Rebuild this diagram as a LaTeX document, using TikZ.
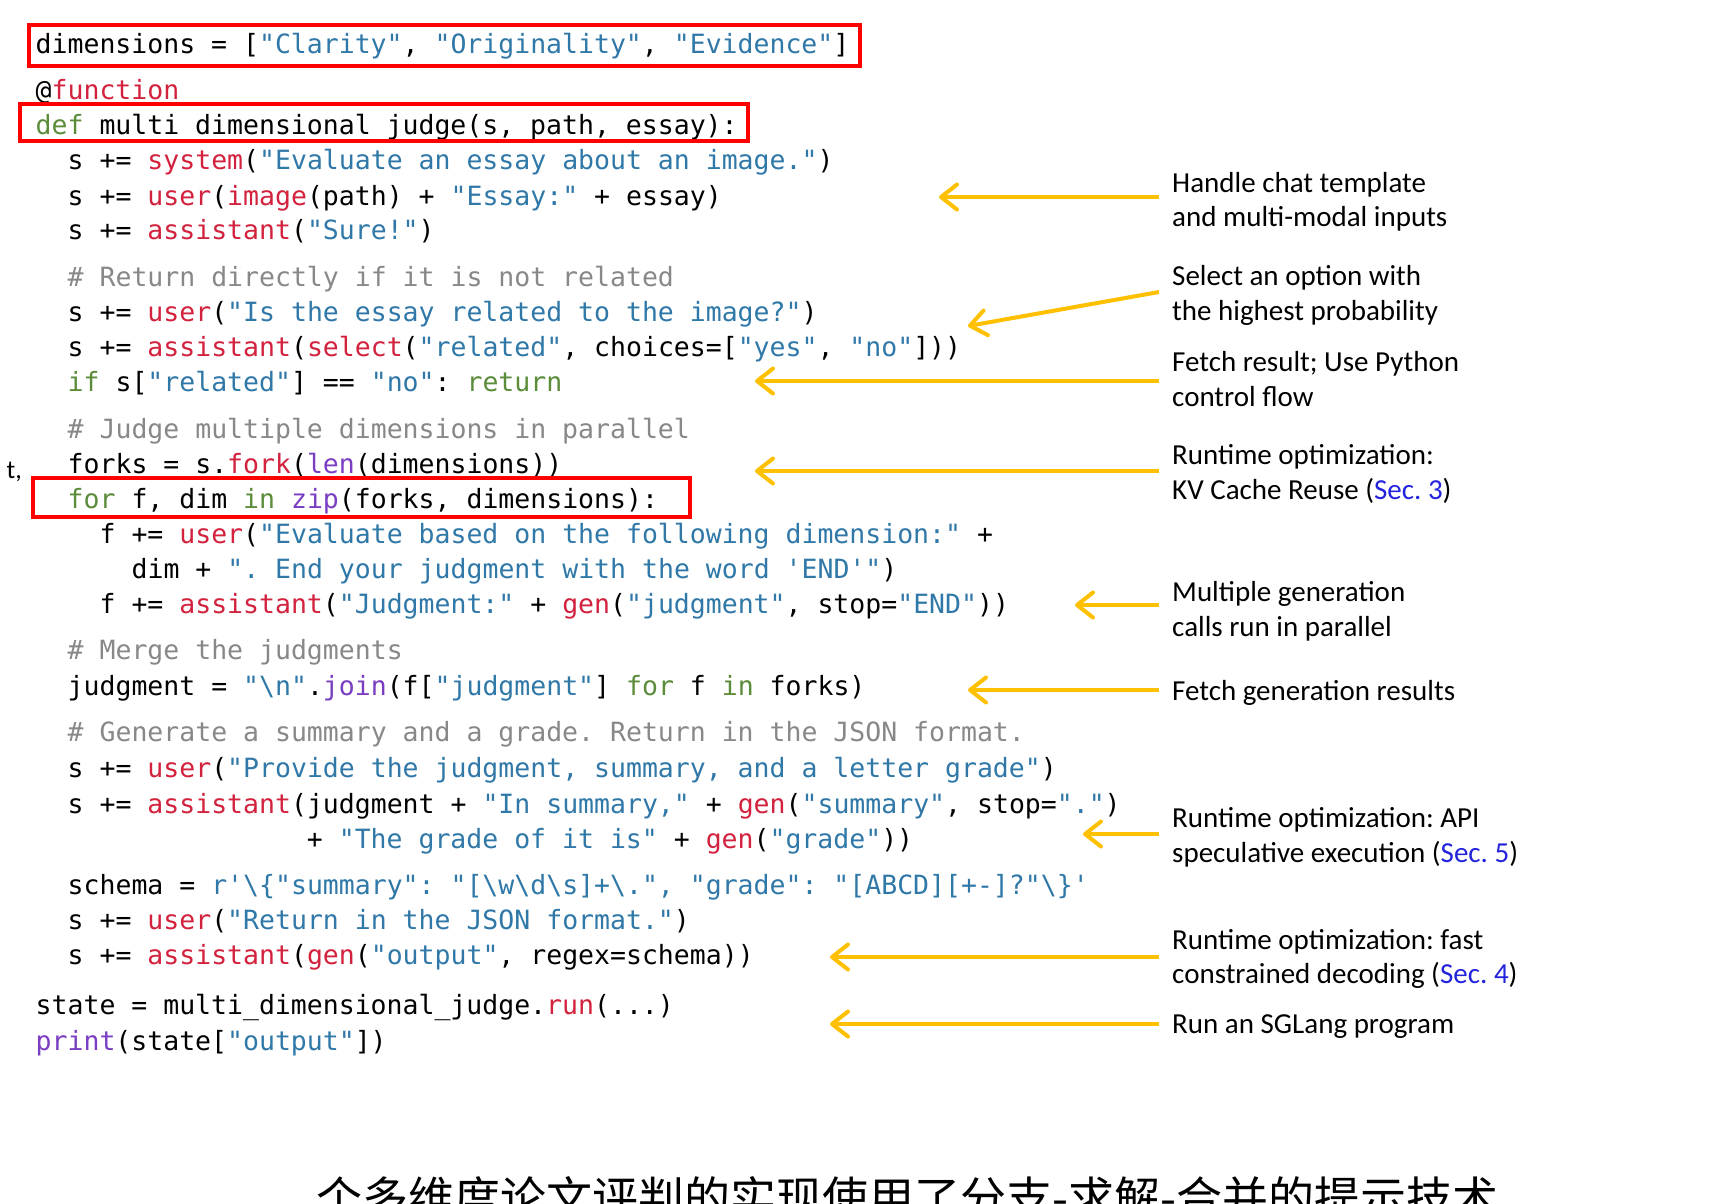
\documentclass[tikz,border=0pt]{standalone}
\usepackage{fontspec}
\usetikzlibrary{arrows.meta}
\setmainfont{Carlito}
\newfontfamily\codefont{DejaVu Sans Mono}
\newfontfamily\annfont{Carlito}
\newfontfamily\cjkfont{Noto Sans CJK SC}
\frenchspacing
\definecolor{kwc}{HTML}{5B8C3A}
\definecolor{fnc}{HTML}{D2223E}
\definecolor{strc}{HTML}{2F78A8}
\definecolor{cmtc}{HTML}{888888}
\definecolor{bic}{HTML}{7A3EC2}
\definecolor{arrc}{HTML}{FFC000}
\definecolor{secc}{HTML}{2323DC}
\definecolor{boxred}{HTML}{FF0000}
\newcommand\ckw[1]{\textcolor{kwc}{#1}}
\newcommand\cfn[1]{\textcolor{fnc}{#1}}
\newcommand\cstr[1]{\textcolor{strc}{#1}}
\newcommand\ccmt[1]{\textcolor{cmtc}{#1}}
\newcommand\cbi[1]{\textcolor{bic}{#1}}
\newcommand\csec[1]{\textcolor{secc}{#1}}
\tikzset{
  codeln/.style={anchor=base west, inner sep=0pt, text=black, font=\codefont\fontsize{26.5}{30}\selectfont\frenchspacing},
  ann/.style={anchor=base west, inner sep=0pt, text=black, font=\annfont\fontsize{29}{33}\selectfont},
  arrowline/.style={draw=arrc, line width=4pt, -{Straight Barb[length=16pt,width=25pt,round]}},
  redbox/.style={draw=boxred, line width=4pt}
}
\begin{document}
\begin{tikzpicture}[x=1pt,y=-1pt]
\fill[white] (0,0) rectangle (1734,1203);
\useasboundingbox (0,0) rectangle (1734,1203);

% code lines
\node[codeln] (L1) at (35.5,53) {dimensions = [\cstr{"Clarity"}, \cstr{"Originality"}, \cstr{"Evidence"}]};
\node[codeln] (L2) at (35.5,99) {@\cfn{function}};
\node[codeln] (L3) at (35.5,134) {\ckw{def} multi\_dimensional\_judge(s, path, essay):};
\node[codeln] (L4) at (67.5,169) {s += \cfn{system}(\cstr{"Evaluate an essay about an image."})};
\node[codeln] (L5) at (67.5,205) {s += \cfn{user}(\cfn{image}(path) + \cstr{"Essay:"} + essay)};
\node[codeln] (L6) at (67.5,239) {s += \cfn{assistant}(\cstr{"Sure!"})};
\node[codeln] (L7) at (67.5,286) {\ccmt{\# Return directly if it is not related}};
\node[codeln] (L8) at (67.5,321) {s += \cfn{user}(\cstr{"Is the essay related to the image?"})};
\node[codeln] (L9) at (67.5,356) {s += \cfn{assistant}(\cfn{select}(\cstr{"related"}, choices=[\cstr{"yes"}, \cstr{"no"}]))};
\node[codeln] (L10) at (67.5,391) {\ckw{if} s[\cstr{"related"}] == \cstr{"no"}: \ckw{return}};
\node[codeln] (L11) at (67.5,438) {\ccmt{\# Judge multiple dimensions in parallel}};
\node[codeln] (L12) at (67.5,473) {forks = s.\cfn{fork}(\cbi{len}(dimensions))};
\node[codeln] (L13) at (67.5,508) {\ckw{for} f, dim \ckw{in} \cbi{zip}(forks, dimensions):};
\node[codeln] (L14) at (99.4,543) {f += \cfn{user}(\cstr{"Evaluate based on the following dimension:"} +};
\node[codeln] (L15) at (131.4,578) {dim + \cstr{". End your judgment with the word \textquotesingle END\textquotesingle"})};
\node[codeln] (L16) at (99.4,613) {f += \cfn{assistant}(\cstr{"Judgment:"} + \cfn{gen}(\cstr{"judgment"}, stop=\cstr{"END"}))};
\node[codeln] (L17) at (67.5,659) {\ccmt{\# Merge the judgments}};
\node[codeln] (L18) at (67.5,695) {judgment = \cstr{"\textbackslash n"}.\cbi{join}(f[\cstr{"judgment"}] \ckw{for} f \ckw{in} forks)};
\node[codeln] (L19) at (67.5,741) {\ccmt{\# Generate a summary and a grade. Return in the JSON format.}};
\node[codeln] (L20) at (67.5,777) {s += \cfn{user}(\cstr{"Provide the judgment, summary, and a letter grade"})};
\node[codeln] (L21) at (67.5,813) {s += \cfn{assistant}(judgment + \cstr{"In summary,"} + \cfn{gen}(\cstr{"summary"}, stop=\cstr{"."})};
\node[codeln] (L22) at (306.7,848) {+ \cstr{"The grade of it is"} + \cfn{gen}(\cstr{"grade"}))};
\node[codeln] (L23) at (67.5,894) {schema = \cstr{r\textquotesingle\textbackslash\{"summary": "[\textbackslash w\textbackslash d\textbackslash s]+\textbackslash .", "grade": "[ABCD][+-]?"\textbackslash\}\textquotesingle}};
\node[codeln] (L24) at (67.5,929) {s += \cfn{user}(\cstr{"Return in the JSON format."})};
\node[codeln] (L25) at (67.5,964) {s += \cfn{assistant}(\cfn{gen}(\cstr{"output"}, regex=schema))};
\node[codeln] (L26) at (35.5,1014) {state = multi\_dimensional\_judge.\cfn{run}(...)};
\node[codeln] (L27) at (35.5,1050) {\cbi{print}(state[\cstr{"output"}])};

% red boxes
\draw[redbox] (29,25) rectangle (860,66);
\draw[redbox] (20,104) rectangle (748,141);
\draw[redbox] (33,478) rectangle (690,517);

% left fragment
\node[anchor=base east, inner sep=0pt, font=\fontsize{26}{30}\selectfont] (frag) at (22,478) {t,};

% annotations
\node[ann] (a1) at (1172,192) {Handle chat template};
\node[ann] (a1b) at (1172,226) {and multi-modal inputs};
\node[ann] (a2) at (1172,285) {Select an option with};
\node[ann] (a2b) at (1172,320) {the highest probability};
\node[ann] (a3) at (1172,371) {Fetch result; Use Python};
\node[ann] (a3b) at (1172,406) {control flow};
\node[ann] (a4) at (1172,464) {Runtime optimization:};
\node[ann] (a4b) at (1172,499) {KV Cache Reuse (\csec{Sec. 3})};
\node[ann] (a5) at (1172,601) {Multiple generation};
\node[ann] (a5b) at (1172,636) {calls run in parallel};
\node[ann] (a6) at (1172,700) {Fetch generation results};
\node[ann] (a7) at (1172,827) {Runtime optimization: API};
\node[ann] (a7b) at (1172,862) {speculative execution (\csec{Sec. 5})};
\node[ann] (a8) at (1172,949) {Runtime optimization: fast};
\node[ann] (a8b) at (1172,983) {constrained decoding (\csec{Sec. 4})};
\node[ann] (a9) at (1172,1033) {Run an SGLang program};

% arrow coordinates
\coordinate (s1) at (1159,197);  \coordinate (e1) at (939,197);
\coordinate (s2) at (1159,292);  \coordinate (e2) at (968,326);
\coordinate (s3) at (1159,381);  \coordinate (e3) at (755,381);
\coordinate (s4) at (1159,471);  \coordinate (e4) at (755,471);
\coordinate (s5) at (1159,605);  \coordinate (e5) at (1075,605);
\coordinate (s6) at (1159,690);  \coordinate (e6) at (968,690);
\coordinate (s7) at (1159,834);  \coordinate (e7) at (1083,834);
\coordinate (s8) at (1159,957);  \coordinate (e8) at (830,957);
\coordinate (s9) at (1159,1024); \coordinate (e9) at (830,1024);
\foreach \i in {1,...,9}{\draw[arrowline] (s\i) -- (e\i);}

% cut-off caption
\node[anchor=base west, inner sep=0pt, font=\cjkfont\fontsize{46}{50}\selectfont] (cap) at (316,1215) {个多维度论文评判的实现使用了分支-求解-合并的提示技术};
\end{tikzpicture}
\end{document}
